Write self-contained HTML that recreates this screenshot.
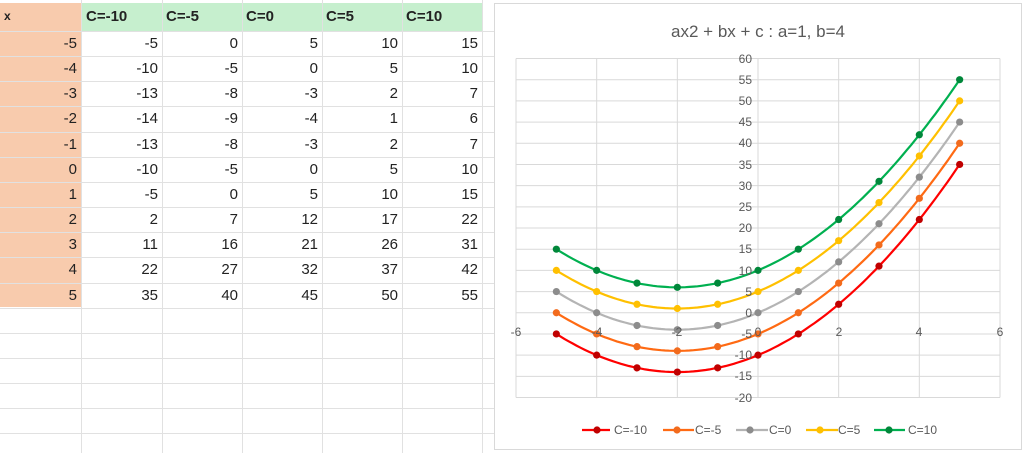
<!DOCTYPE html>
<html><head><meta charset="utf-8"><style>
body{margin:0;width:1024px;height:453px;overflow:hidden;background:#fff;font-family:"Liberation Sans",sans-serif;position:relative}
.c{position:absolute;font-size:15px;color:#222;}
</style></head><body>
<svg id="s" width="1024" height="453" style="position:absolute;left:0;top:0" font-family="Liberation Sans, sans-serif">
<g id="sheet"></g>
<rect x="494.5" y="3.5" width="527" height="446" fill="#fff" stroke="#d9d9d9"/>
<text x="758" y="37" font-size="17" fill="#595959" text-anchor="middle">ax2 + bx + c : a=1, b=4</text>
<g id="grid"></g>
<g id="series"></g>
<g font-size="12" fill="#595959" text-anchor="end">
<text x="752" y="63">60</text><text x="752" y="84">55</text><text x="752" y="105">50</text><text x="752" y="126">45</text><text x="752" y="147">40</text><text x="752" y="169">35</text><text x="752" y="190">30</text><text x="752" y="211">25</text><text x="752" y="232">20</text><text x="752" y="253">15</text><text x="752" y="275">10</text><text x="752" y="296">5</text><text x="752" y="317">0</text><text x="752" y="338">-5</text><text x="752" y="359">-10</text><text x="752" y="380">-15</text><text x="752" y="402">-20</text>
</g>
<g font-size="12" fill="#595959" text-anchor="middle">
<text x="516" y="336">-6</text><text x="597" y="336">-4</text><text x="677" y="336">-2</text><text x="758" y="336">0</text><text x="839" y="336">2</text><text x="919" y="336">4</text><text x="1000" y="336">6</text>
</g>
<g id="legend" font-size="12" fill="#595959">
<text x="614" y="434">C=-10</text><text x="695" y="434">C=-5</text><text x="769" y="434">C=0</text><text x="838" y="434">C=5</text><text x="908" y="434">C=10</text>
</g>
</svg>
<div class="c" style="left:4px;top:9px;font-weight:bold;font-size:12px">x</div>
<div class="c" style="left:86px;top:8px;font-weight:bold">C=-10</div>
<div class="c" style="left:166px;top:8px;font-weight:bold">C=-5</div>
<div class="c" style="left:246px;top:8px;font-weight:bold">C=0</div>
<div class="c" style="left:326px;top:8px;font-weight:bold">C=5</div>
<div class="c" style="left:406px;top:8px;font-weight:bold">C=10</div>
<div id="cells"></div>
<script>
(function(){
var NS="http://www.w3.org/2000/svg";
function el(p,t,a){var e=document.createElementNS(NS,t);for(var k in a)e.setAttribute(k,a[k]);p.appendChild(e);return e;}
var sh=document.getElementById('sheet');
var cols=[0,81,162,242,322,402,482];
el(sh,'rect',{x:0,y:3,width:81,height:304,fill:'#f8cbad'});
el(sh,'rect',{x:81,y:3,width:401,height:28,fill:'#c6efce'});
for(var i=1;i<cols.length;i++){el(sh,'line',{x1:cols[i]+.5,y1:0,x2:cols[i]+.5,y2:453,stroke:'#e1e1e1'});}
for(var r=0;r<18;r++){var yy=Math.round(31+r*25.15)+.5;el(sh,'line',{x1:0,y1:yy,x2:494,y2:yy,stroke:'#e1e1e1'});}
var X0=758,XS=40.33,Y0=312.75,YS=4.2375;
function px(x){return X0+XS*x}function py(y){return Y0-YS*y}
var g=document.getElementById('grid');
for(var v=-20;v<=60;v+=5)el(g,'line',{x1:516,y1:py(v),x2:1000,y2:py(v),stroke:'#d9d9d9'});
for(var v=-6;v<=6;v+=2)el(g,'line',{x1:px(v),y1:py(60),x2:px(v),y2:py(-20),stroke:'#d9d9d9'});
var Cs=[-10,-5,0,5,10],lc=['#ff0000','#ff6a13','#b4b4b4','#ffc000','#00b050'],mc=['#c00000','#f26b1d','#8c8c8c','#ffc000','#00873a'];
var s=document.getElementById('series');
var cells=document.getElementById('cells'),html='';
for(var r=0;r<11;r++){var x=r-5,tp=31+r*25.15+4;
 html+='<div class="c" style="left:0;width:77px;text-align:right;top:'+tp+'px">'+x+'</div>';
 for(var k=0;k<5;k++){html+='<div class="c" style="left:'+cols[k+1]+'px;width:'+(cols[k+2]-cols[k+1]-4)+'px;text-align:right;top:'+tp+'px">'+(x*x+4*x+Cs[k])+'</div>';}}
cells.innerHTML=html;
Cs.forEach(function(c,k){
 var pts=[];for(var x=-5;x<=5.001;x+=0.1){pts.push(px(x).toFixed(1)+','+py(x*x+4*x+c).toFixed(1));}
 el(s,'polyline',{points:pts.join(' '),fill:'none',stroke:lc[k],'stroke-width':2.2});
 for(var x=-5;x<=5;x++)el(s,'circle',{cx:px(x),cy:py(x*x+4*x+c),r:3.6,fill:mc[k]});
});
var L=document.getElementById('legend'),lx=[[582,610,597],[663,694,677],[736,768,750],[806,838,820],[874,905,889]];
lx.forEach(function(a,k){el(L,'line',{x1:a[0],y1:430,x2:a[1],y2:430,stroke:lc[k],'stroke-width':2.2});el(L,'circle',{cx:a[2],cy:430,r:3.6,fill:mc[k]});});
})();
</script>
</body></html>
